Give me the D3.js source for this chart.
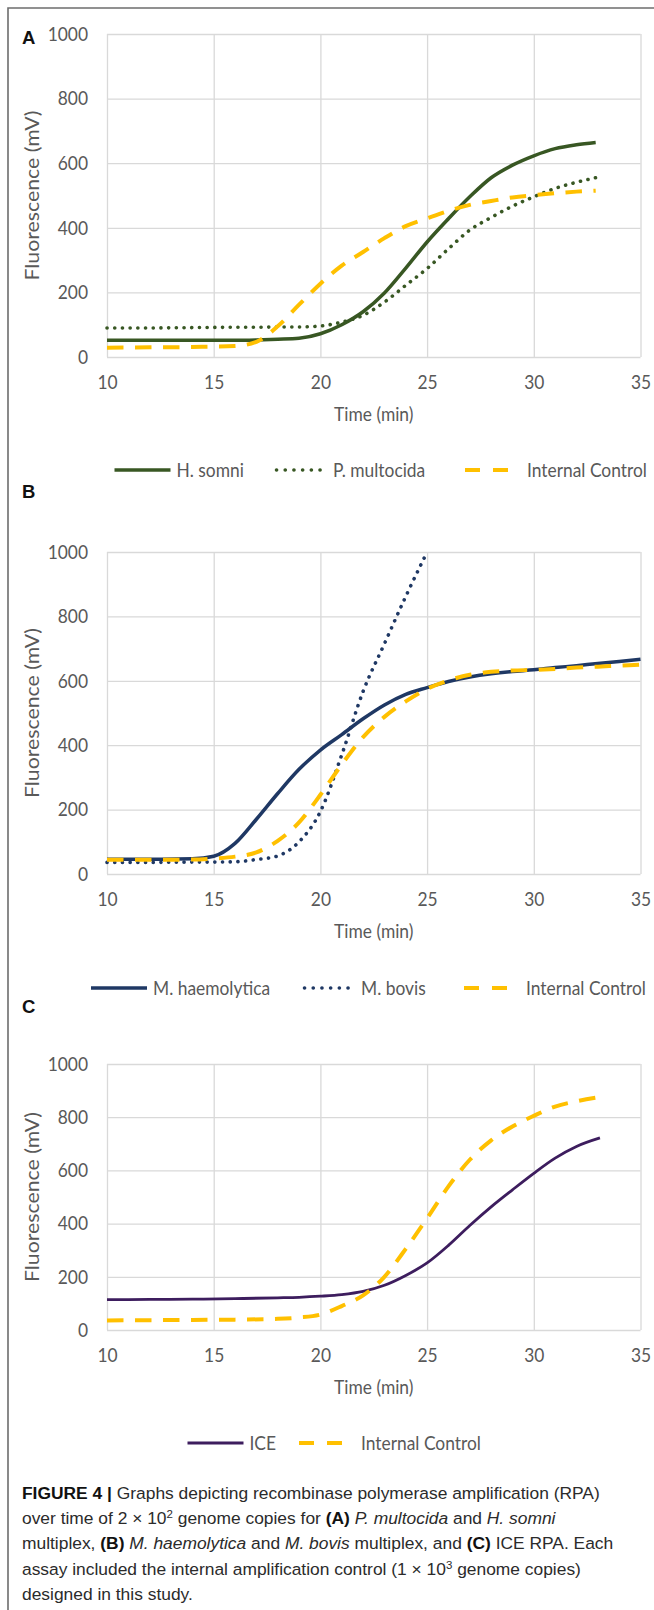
<!DOCTYPE html>
<html>
<head>
<meta charset="utf-8">
<script src="https://cdn.jsdelivr.net/npm/d3@7"></script>
<style>
body { margin: 0; background: #fff; }
.chart text { font-family: Lato, "Open Sans", sans-serif; fill: #595959; }
.caption text { font-family: "Liberation Sans", Arial, sans-serif; }
</style>
</head>
<body>
<script>
var width = 654,
    height = 1610,
    fs = 17.4,        // chart font size
    stretch = 1.14;   // the scanned figure is a bit taller than wide

// panel A : P. multocida / H. somni multiplex
var timeA = [10, 12, 14, 16, 17, 18, 19, 20, 21, 22, 23, 24, 25, 26, 27, 28, 29, 30, 31, 32, 32.9];
var hSomni = [52, 52, 52, 52, 53, 55, 58, 72, 100, 140, 198, 275, 356, 428, 496, 555, 594, 623, 645, 657, 664];
var pMultocida = [90, 90, 91, 92, 92, 93, 93, 96, 108, 129, 170, 222, 274, 335, 393, 432, 467, 496, 522, 541, 555];
var icA = [29, 30, 31, 34, 47, 95, 162, 227, 283, 325, 368, 405, 429, 452, 471, 483, 494, 501, 507, 512, 515];

// panel B : M. haemolytica / M. bovis multiplex
var timeB = [10, 12, 14, 15, 16, 17, 18, 19, 20, 21, 22, 23, 24, 25, 26, 27, 28, 29, 30, 31, 32, 33, 34, 35];
var mHaemolytica = [46, 46, 47, 55, 95, 170, 250, 325, 385, 433, 482, 525, 558, 579, 598, 612, 622, 629, 634, 641, 647, 654, 660, 667];
var mBovis = [36, 36, 37, 37, 38, 45, 56, 100, 194, 370, 567, 715, 862, 1000];
var icB = [44, 44, 45, 48, 54, 67, 103, 160, 246, 340, 425, 488, 536, 575, 601, 619, 628, 632, 634, 637, 641, 644, 647, 650];

// panel C : ICE
var timeC = [10, 12, 14, 16, 18, 19, 20, 21, 22, 23, 24, 25, 26, 27, 28, 29, 30, 31, 32, 33.1];
var ice = [114, 115, 116, 118, 121, 123, 127, 133, 145, 168, 205, 252, 318, 393, 463, 527, 589, 646, 690, 722];
var icC = [36, 37, 38, 39, 42, 47, 58, 90, 130, 200, 305, 420, 540, 640, 713, 765, 805, 840, 860, 876];

var xTicks = [10, 15, 20, 25, 30, 35];
var yTicks = [0, 200, 400, 600, 800, 1000];

var green = "#385723", navy = "#1f3864", purple = "#3d1d5e", gold = "#ffc000";

var styles = {
  solid:  {w: 3.5, dash: null, cap: "butt", legW: 56, legDash: null, textX: 62},
  thin:   {w: 2.8, dash: null, cap: "butt", legW: 56, legDash: null, textX: 62},
  dotted: {w: 3.6, dash: "0.1,7.6", cap: "round", legW: 52, legDash: "0.1,8.6", textX: 58},
  dashed: {w: 4, dash: "16.5,11.5", cap: "butt", legW: 43, legDash: "15,13", textX: 62}
};

var panels = [
  {label: "A", labelY: 44, top: 34, bottom: 357, legendY: 470, legendX: [114.5, 275, 465],
   times: timeA,
   series: [{name: "H. somni", values: hSomni, color: green, kind: "solid"},
            {name: "P. multocida", values: pMultocida, color: green, kind: "dotted"},
            {name: "Internal Control", values: icA, color: gold, kind: "dashed"}]},
  {label: "B", labelY: 498, top: 552, bottom: 874, legendY: 988, legendX: [91, 303, 464],
   times: timeB,
   series: [{name: "M. haemolytica", values: mHaemolytica, color: navy, kind: "solid"},
            {name: "M. bovis", values: mBovis, color: navy, kind: "dotted"},
            {name: "Internal Control", values: icB, color: gold, kind: "dashed"}]},
  {label: "C", labelY: 1013, top: 1064, bottom: 1330, legendY: 1443, legendX: [187.5, 299],
   times: timeC,
   series: [{name: "ICE", values: ice, color: purple, kind: "thin"},
            {name: "Internal Control", values: icC, color: gold, kind: "dashed"}]}
];

var svg = d3.select("body").append("svg")
    .attr("width", width)
    .attr("height", height)
    .style("display", "block");

// frame
svg.append("path")
    .attr("d", "M8,1610V8H654")
    .attr("fill", "none")
    .attr("stroke", "#6d6d6d")
    .attr("stroke-width", 1.6);

var x = d3.scaleLinear().domain([10, 35]).range([107, 640.5]);
var plotW = x.range()[1] - x.range()[0];

panels.forEach(function(p) {
  var y = d3.scaleLinear().domain([0, 1000]).range([p.bottom, p.top]);
  var g = svg.append("g").attr("class", "chart");

  g.append("text")
      .attr("x", 22)
      .attr("y", p.labelY)
      .style("font-family", "'Liberation Sans', Arial, sans-serif")
      .style("font-weight", "bold")
      .style("font-size", "18.5px")
      .style("fill", "#111")
      .text(p.label);

  // grid + tick labels
  g.append("g")
      .attr("transform", "translate(" + x.range()[0] + ",0)")
      .call(d3.axisLeft(y).tickValues(yTicks).tickFormat(d3.format("d"))
        .tickSize(-plotW).tickPadding(19))
      .call(styleAxis);

  g.append("g")
      .attr("transform", "translate(0," + p.bottom + ")")
      .call(d3.axisBottom(x).tickValues(xTicks).tickFormat(d3.format("d"))
        .tickSize(-(p.bottom - p.top)).tickPadding(15.5))
      .call(styleAxis);

  g.append("text")
      .attr("transform", "translate(" + (x.range()[0] + plotW / 2) + "," + (p.bottom + 64) + ") scale(1," + stretch + ")")
      .attr("text-anchor", "middle")
      .style("font-size", fs + "px")
      .text("Time (min)");

  g.append("text")
      .attr("transform", "translate(38.5," + (p.top + p.bottom) / 2 + ") scale(1,1.15) rotate(-90)")
      .attr("text-anchor", "middle")
      .style("font-size", "18.5px")
      .text("Fluorescence (mV)");

  var line = d3.line()
      .x(function(d) { return x(d[0]); })
      .y(function(d) { return y(d[1]); })
      .curve(d3.curveMonotoneX);

  g.selectAll(".series")
      .data(p.series)
    .enter().append("path")
      .attr("class", "series")
      .attr("fill", "none")
      .attr("stroke", function(s) { return s.color; })
      .attr("stroke-width", function(s) { return styles[s.kind].w; })
      .attr("stroke-dasharray", function(s) { return styles[s.kind].dash; })
      .attr("stroke-linecap", function(s) { return styles[s.kind].cap; })
      .attr("d", function(s) {
        return line(s.values.map(function(v, i) { return [p.times[i], v]; }));
      });

  // legend
  var leg = g.selectAll(".legend")
      .data(p.series)
    .enter().append("g")
      .attr("class", "legend")
      .attr("transform", function(s, i) { return "translate(" + p.legendX[i] + "," + p.legendY + ")"; });

  leg.append("line")
      .attr("x1", function(s) { return s.kind == "dotted" ? 1.5 : 0; })
      .attr("x2", function(s) { return styles[s.kind].legW; })
      .attr("stroke", function(s) { return s.color; })
      .attr("stroke-width", function(s) { return styles[s.kind].w; })
      .attr("stroke-dasharray", function(s) { return styles[s.kind].legDash; })
      .attr("stroke-linecap", function(s) { return styles[s.kind].cap; });

  leg.append("text")
      .attr("transform", function(s) { return "translate(" + styles[s.kind].textX + ",0) scale(1," + stretch + ")"; })
      .attr("dy", "0.35em")
      .style("font-size", fs + "px")
      .text(function(s) { return s.name; });
});

function styleAxis(sel) {
  sel.select(".domain").remove();
  sel.selectAll(".tick line").attr("stroke", "#d9d9d9").attr("stroke-width", 1.3);
  sel.selectAll(".tick text")
      .attr("transform", "scale(1," + stretch + ")")
      .style("font-size", fs + "px")
      .style("fill", "#595959");
}

// caption
var captionLines = [
  [{t: "FIGURE 4 | ", b: 1}, {t: "Graphs depicting recombinase polymerase amplification (RPA)"}],
  [{t: "over time of 2 \u00d7 10"}, {t: "2", sup: 1}, {t: " genome copies for "}, {t: "(A) ", b: 1},
   {t: "P. multocida", i: 1}, {t: " and "}, {t: "H. somni", i: 1}],
  [{t: "multiplex, "}, {t: "(B) ", b: 1}, {t: "M. haemolytica", i: 1}, {t: " and "}, {t: "M. bovis", i: 1},
   {t: " multiplex, and "}, {t: "(C) ", b: 1}, {t: "ICE RPA. Each"}],
  [{t: "assay included the internal amplification control (1 \u00d7 10"}, {t: "3", sup: 1}, {t: " genome copies)"}],
  [{t: "designed in this study."}]
];

var cap = svg.append("g").attr("class", "caption");
captionLines.forEach(function(segs, li) {
  var txt = cap.append("text")
      .attr("x", 22)
      .attr("y", 1499 + li * 25.2)
      .style("font-size", "17.4px")
      .style("fill", "#2b2b2b");
  var raised = false;
  segs.forEach(function(s) {
    var ts = txt.append("tspan").text(s.t);
    if (s.b) ts.style("font-weight", "bold").style("fill", "#111");
    if (s.i) ts.style("font-style", "italic");
    if (s.sup) { ts.attr("dy", -6).style("font-size", "11.5px"); raised = true; }
    else if (raised) { ts.attr("dy", 6); raised = false; }
  });
});
</script>
</body>
</html>
